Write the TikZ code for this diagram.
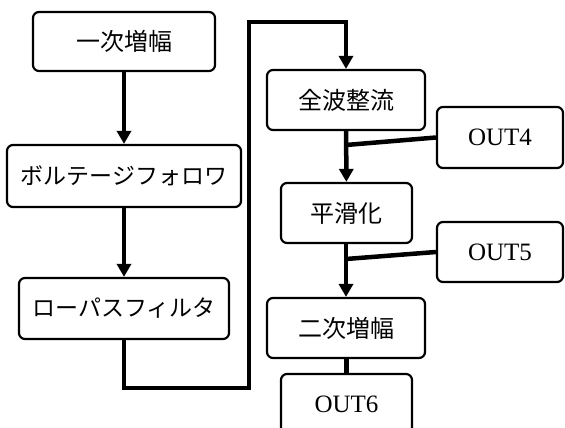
\documentclass[tikz,border=0pt]{standalone}
\usepackage{fontspec}
\setmainfont{Liberation Serif}
\newfontfamily\jpfont{Noto Sans CJK JP}
\usetikzlibrary{arrows.meta}
\begin{document}
\begin{tikzpicture}[x=1pt,y=-1pt,
  blk/.style={draw, line width=2.2pt, rounded corners=6pt, inner sep=0pt,
    minimum height=60pt, font=\fontsize{24}{28}\selectfont\jpfont},
  outblk/.style={blk, font=\fontsize{25}{28}\selectfont},
  conn/.style={line width=4.5pt},
  arr/.style={conn, -{Triangle[width=14pt,length=13pt]}}]
\useasboundingbox (0,0) rectangle (565,428);
\node[blk, minimum width=182pt, minimum height=59pt] (n1) at (124,41.5) {一次増幅};
\node[blk, minimum width=234pt, minimum height=62pt, font=\fontsize{23}{28}\selectfont\jpfont] (n2) at (124,176) {ボルテージフォロワ};
\node[blk, minimum width=210pt, minimum height=61pt, font=\fontsize{23}{28}\selectfont\jpfont] (n3) at (124,308.5) {ローパスフィルタ};
\node[blk, minimum width=158pt] (n4) at (346,100) {全波整流};
\node[outblk, minimum width=126pt, minimum height=61pt] (o4) at (500,137.5) {OUT4};
\node[blk, minimum width=131pt] (n5) at (346.5,213) {平滑化};
\node[outblk, minimum width=126pt] (o5) at (500,252) {OUT5};
\node[blk, minimum width=158pt] (n6) at (346,328) {二次増幅};
\node[outblk, minimum width=131pt] (o6) at (346.5,404) {OUT6};
\coordinate (c1) at (124,388);
\coordinate (c2) at (249,388);
\coordinate (c3) at (249,22);
\coordinate (c4) at (346,22);
\coordinate (j4) at (346,145);
\coordinate (j5) at (346,259);
\draw[arr] (n1) -- (n2);
\draw[arr] (n2) -- (n3);
\draw[arr] (n3.south) -- (c1) -- (c2) -- (c3) -- (c4) -- (n4.north);
\draw[arr] (n4) -- (n5);
\draw[arr] (n5.south -| n6.north) -- (n6.north);
\draw[conn] (o4.west) -- (j4);
\draw[conn] (o5.west) -- (j5);
\draw[conn] (n6.south -| o6.north) -- (o6.north);
\end{tikzpicture}
\end{document}
